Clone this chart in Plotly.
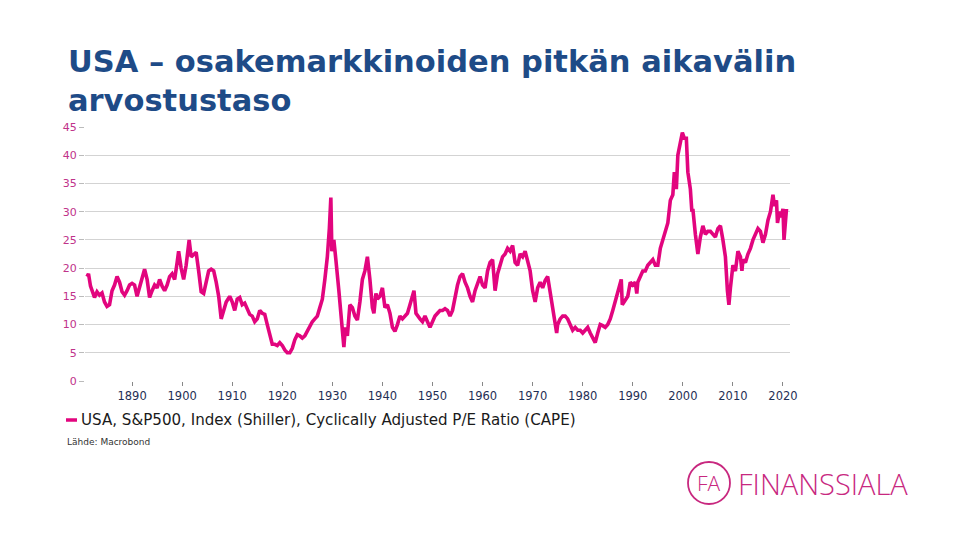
import plotly.graph_objects as go

# Decimal year and CAPE value
years = [
    1881.0, 1881.3, 1881.7, 1882.0, 1882.5, 1883.0, 1883.5, 1884.0, 1884.5, 1885.0,
    1885.5, 1886.0, 1886.5, 1887.0, 1887.5, 1888.0, 1888.5, 1889.0, 1889.5, 1890.0,
    1890.5, 1891.0, 1891.5, 1892.0, 1892.5, 1893.0, 1893.5, 1894.0, 1894.5, 1895.0,
    1895.5, 1896.0, 1896.5, 1897.0, 1897.5, 1898.0, 1898.5, 1899.0, 1899.3, 1899.8,
    1900.3, 1900.8, 1901.4, 1901.8, 1902.3, 1902.8, 1903.3, 1903.8, 1904.3, 1904.8,
    1905.3, 1905.8, 1906.3, 1906.8, 1907.3, 1907.8, 1908.3, 1908.8, 1909.5, 1910.0,
    1910.5, 1911.0, 1911.5, 1912.0, 1912.5, 1913.0, 1913.5, 1914.0, 1914.5, 1915.0,
    1915.5, 1916.0, 1916.5, 1917.0, 1917.5, 1918.0, 1918.5, 1919.0, 1919.5, 1920.0,
    1920.5, 1921.0, 1921.5, 1922.0, 1922.5, 1923.0, 1923.5, 1924.0, 1924.5, 1925.0,
    1925.5, 1926.0, 1926.5, 1927.0, 1927.5, 1928.0, 1928.5, 1929.0, 1929.4, 1929.7,
    1929.9, 1930.3, 1930.7, 1931.0, 1931.3, 1931.7, 1932.0, 1932.3, 1932.6, 1933.0,
    1933.5, 1934.0, 1934.5, 1935.0, 1935.5, 1936.0, 1936.5, 1937.0, 1937.5, 1938.0,
    1938.3, 1938.7, 1939.0, 1939.5, 1940.0, 1940.5, 1941.0, 1941.5, 1942.0, 1942.5,
    1943.0, 1943.5, 1944.0, 1944.5, 1945.0, 1945.5, 1946.0, 1946.3, 1946.7, 1947.0,
    1947.5, 1948.0, 1948.5, 1949.0, 1949.5, 1950.0, 1950.5, 1951.0, 1951.5, 1952.0,
    1952.5, 1953.0, 1953.5, 1954.0, 1954.5, 1955.0, 1955.5, 1956.0, 1956.5, 1957.0,
    1957.5, 1958.0, 1958.5, 1959.0, 1959.5, 1960.0, 1960.5, 1961.0, 1961.5, 1962.0,
    1962.5, 1963.0, 1963.5, 1964.0, 1964.5, 1965.0, 1965.5, 1966.0, 1966.5, 1967.0,
    1967.5, 1968.0, 1968.5, 1969.0, 1969.5, 1970.0, 1970.5, 1971.0, 1971.5, 1972.0,
    1972.5, 1973.0, 1973.5, 1974.0, 1974.5, 1974.8, 1975.0, 1975.5, 1976.0, 1976.5,
    1977.0, 1977.5, 1978.0, 1978.5, 1979.0, 1979.5, 1980.0, 1980.5, 1981.0, 1981.5,
    1982.0, 1982.5, 1983.0, 1983.5, 1984.0, 1984.5, 1985.0, 1985.5, 1986.0, 1986.5,
    1987.0, 1987.7, 1987.9, 1988.5, 1989.0, 1989.5, 1990.0, 1990.5, 1990.8, 1991.0,
    1992.0, 1992.5, 1993.0, 1993.5, 1994.0, 1994.5, 1995.0, 1995.5, 1996.0, 1996.5,
    1997.0, 1997.5, 1997.8, 1998.0, 1998.3, 1998.7, 1999.0, 1999.5, 1999.9, 2000.3,
    2000.7, 2001.0, 2001.5, 2001.8, 2002.0, 2002.5, 2002.8, 2003.0, 2003.5, 2004.0,
    2004.5, 2005.0, 2005.5, 2006.0, 2006.5, 2007.0, 2007.5, 2008.0, 2008.5, 2008.9,
    2009.2, 2009.5, 2010.0, 2010.5, 2011.0, 2011.5, 2011.8, 2012.0, 2012.5, 2013.0,
    2013.5, 2014.0, 2014.5, 2015.0, 2015.5, 2016.0, 2016.5, 2017.0, 2017.5, 2018.0,
    2018.3, 2018.7, 2018.9, 2019.3, 2019.6, 2020.0, 2020.2, 2020.5, 2020.7,
]
cape = [
    18.5, 19.0, 16.8, 16.0, 14.8, 15.8, 15.2, 15.6, 14.0, 13.2,
    13.5, 16.0, 17.0, 18.5, 17.5, 15.8, 15.2, 16.0, 17.0, 17.3,
    17.0, 15.0, 16.5, 18.5, 19.8, 18.0, 14.8, 16.0, 17.0, 16.5,
    18.0, 16.8, 16.0, 17.0, 18.5, 19.0, 18.0, 21.0, 23.0, 20.0,
    18.0, 20.5, 25.0, 22.0, 22.5, 22.8, 19.5, 15.8, 15.5, 17.5,
    19.5, 19.8, 19.5, 17.5, 15.0, 11.0, 12.5, 14.0, 15.0, 14.0,
    12.5, 14.5, 14.8, 13.5, 13.8, 12.8, 11.8, 11.5, 10.5, 11.0,
    12.5, 12.0, 11.8, 10.0, 8.0, 6.5, 6.5, 6.3, 6.8, 6.3,
    5.5, 5.0, 5.0, 5.8, 7.3, 8.2, 8.0, 7.6, 8.0, 8.8,
    9.8, 10.5, 11.0, 11.5, 13.0, 14.5, 18.0, 22.0, 27.0, 32.5,
    23.0, 25.0, 21.5, 18.0, 16.0, 12.0, 9.0, 6.0, 9.5, 8.0,
    13.5, 13.0, 11.5, 10.8, 14.0, 18.0, 19.5, 22.0, 18.0, 13.0,
    12.0, 15.5, 14.5, 15.0, 16.5, 13.0, 13.5, 12.0, 9.5, 8.8,
    10.0, 11.5, 11.0, 11.5, 12.0, 13.5, 15.5, 16.0, 12.0, 11.5,
    11.0, 10.5, 11.5, 10.5, 9.5, 10.5, 11.5, 12.0, 12.5, 12.5,
    12.8, 12.5, 11.5, 12.5, 15.0, 17.0, 18.5, 19.0, 17.5, 16.5,
    15.0, 14.0, 16.0, 17.5, 18.5, 17.0, 16.5, 19.5, 21.0, 21.5,
    16.0, 19.0, 20.5, 22.0, 22.5, 23.5, 23.0, 24.0, 21.0, 20.5,
    22.5, 22.0, 23.0, 21.0, 19.5, 16.0, 14.0, 16.5, 17.5, 16.5,
    17.8, 18.5, 15.5, 13.5, 10.5, 8.5, 10.0, 11.0, 11.5, 11.5,
    11.0, 10.0, 9.0, 9.5, 9.0, 9.0, 8.5, 9.0, 9.5, 8.5,
    7.5, 6.8, 8.5, 10.0, 9.8, 9.5, 10.0, 11.0, 12.5, 14.0,
    15.5, 18.0, 13.5, 14.5, 15.0, 17.5, 17.0, 17.5, 15.5, 17.5,
    19.5, 19.5, 20.5, 21.0, 21.5, 20.5, 20.5, 23.5, 25.0, 26.0,
    28.0, 32.0, 32.5, 33.0, 37.0, 34.0, 40.0, 42.5, 44.0, 43.0,
    43.0, 37.0, 34.0, 30.0, 30.5, 26.0, 23.0, 22.5, 25.5, 27.5,
    26.0, 26.5, 26.5, 26.0, 25.5, 27.0, 27.5, 25.0, 22.0, 16.0,
    13.5, 16.5, 20.5, 19.5, 23.0, 22.0, 19.5, 21.5, 21.0, 22.5,
    23.5, 25.0, 26.0, 27.0, 26.5, 24.5, 26.0, 28.5, 30.0, 33.0,
    31.0, 32.0, 28.0, 30.0, 29.0, 30.5, 25.0, 29.5, 30.5,
]

x_ticks = [1890, 1900, 1910, 1920, 1930, 1940, 1950, 1960, 1970, 1980, 1990, 2000, 2010, 2020]
y_ticks = [0, 5, 10, 15, 20, 25, 30, 35, 40, 45]

series_name = "USA, S&P500, Index (Shiller), Cyclically Adjusted P/E Ratio (CAPE)"
title_lines = ["USA \u2013 osakemarkkinoiden pitkän aikavälin", "arvostustaso"]
source_text = "Lähde: Macrobond"

PINK = "#E2057E"
FONT = "DejaVu Sans"

# plot area in pixels
L, R, T, B = 85, 790, 127, 381
W, H = 960, 540


def px(xp):
    return (xp - L) / (R - L)


def py(yp):
    return (B - yp) / (B - T)


fig = go.Figure()
fig.add_trace(go.Scatter(
    x=years, y=cape, mode="lines", name=series_name,
    line=dict(color=PINK, width=3.6), showlegend=False,
))

annotations = [
    dict(text=title_lines[0], x=px(66), y=py(61), xanchor="left", yanchor="middle",
         font=dict(family=FONT, size=30.5, color="#1E4B87", weight="bold")),
    dict(text=title_lines[1], x=px(66), y=py(100), xanchor="left", yanchor="middle",
         font=dict(family=FONT, size=30.5, color="#1E4B87", weight="bold")),
    dict(text=series_name, x=px(79), y=py(420), xanchor="left", yanchor="middle",
         font=dict(family=FONT, size=15.1, color="#1a1a1a")),
    dict(text=source_text, x=px(65), y=py(442), xanchor="left", yanchor="middle",
         font=dict(family=FONT, size=9, color="#333333")),
    dict(text="FA", x=px(709), y=py(483), xanchor="center", yanchor="middle",
         font=dict(family="Open Sans", size=21, color="#C8287F", weight=300)),
    dict(text="FINANSSIALA", x=px(736), y=py(483), xanchor="left", yanchor="middle",
         font=dict(family="Open Sans", size=29, color="#C8287F", weight=300)),
]
for a in annotations:
    a.update(xref="paper", yref="paper", showarrow=False)

shapes = [
    dict(type="line", xref="paper", yref="paper", x0=px(66), x1=px(77), y0=py(420), y1=py(420),
         line=dict(color=PINK, width=3.5)),
    dict(type="circle", xref="paper", yref="paper", x0=px(688), x1=px(730), y0=py(504), y1=py(462),
         line=dict(color="#C8287F", width=1.8)),
]

fig.update_layout(
    width=W, height=H,
    margin=dict(l=L, r=W - R, t=T, b=H - B),
    paper_bgcolor="white", plot_bgcolor="white",
    annotations=annotations, shapes=shapes,
    xaxis=dict(range=[1880.6, 2021.4], tickvals=x_ticks, showgrid=False, zeroline=False,
               ticks="outside", ticklen=4, tickcolor="#888888", showline=False,
               tickfont=dict(family=FONT, size=11.5, color="#1F2F55")),
    yaxis=dict(range=[0, 45], tickvals=y_ticks, showgrid=True, gridcolor="#D3D3D3", gridwidth=1,
               zeroline=False, ticks="outside", ticklen=5, tickcolor="#BBBBBB", showline=False,
               tickfont=dict(family=FONT, size=11, color="#C0338A")),
)

fig.write_html("out.html")
